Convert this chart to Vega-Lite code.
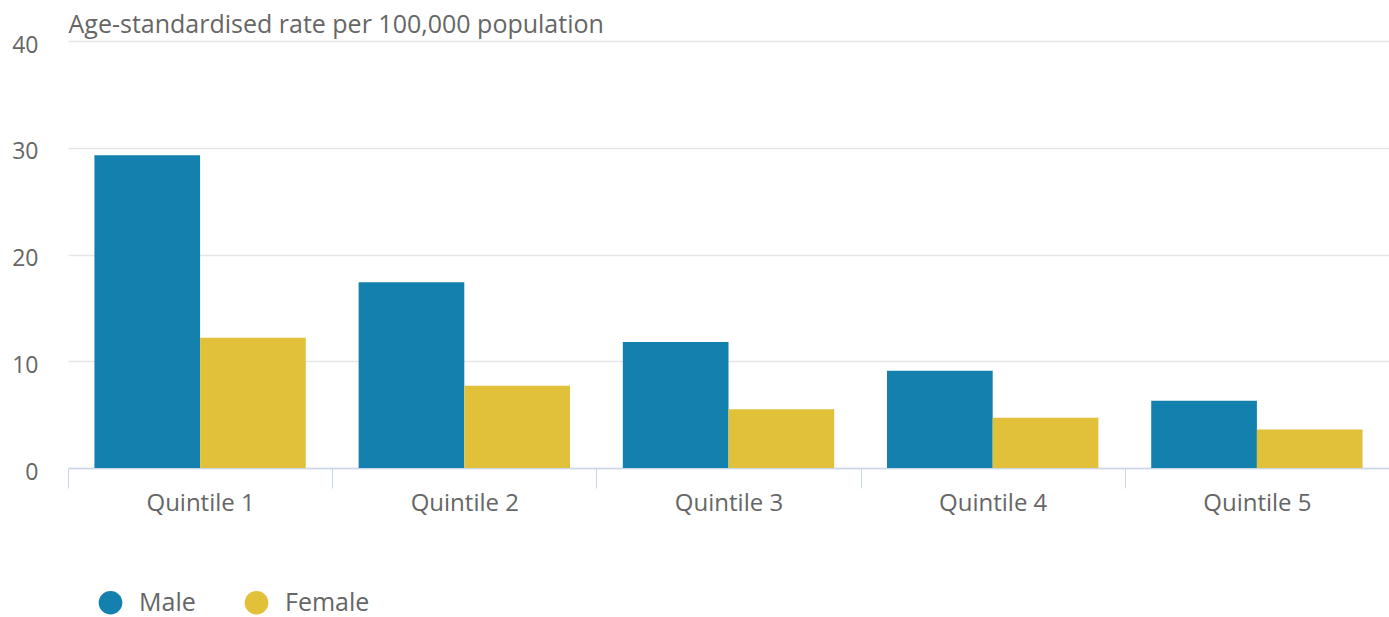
{
  "$schema": "https://vega.github.io/schema/vega-lite/v6.json",
  "width": 1321,
  "height": 427,
  "autosize": {"type": "none"},
  "padding": {"left": 68, "top": 41, "right": 0, "bottom": 149},
  "background": "white",
  "config": {
    "font": "Open Sans",
    "view": {"stroke": null}
  },
  "data": {
    "values": [
      {"quintile": "Quintile 1", "sex": "Male", "rate": 29.3},
      {"quintile": "Quintile 1", "sex": "Female", "rate": 12.2},
      {"quintile": "Quintile 2", "sex": "Male", "rate": 17.4},
      {"quintile": "Quintile 2", "sex": "Female", "rate": 7.7},
      {"quintile": "Quintile 3", "sex": "Male", "rate": 11.8},
      {"quintile": "Quintile 3", "sex": "Female", "rate": 5.5},
      {"quintile": "Quintile 4", "sex": "Male", "rate": 9.1},
      {"quintile": "Quintile 4", "sex": "Female", "rate": 4.7},
      {"quintile": "Quintile 5", "sex": "Male", "rate": 6.3},
      {"quintile": "Quintile 5", "sex": "Female", "rate": 3.6}
    ]
  },
  "mark": {"type": "bar"},
  "encoding": {
    "x": {
      "field": "quintile",
      "type": "nominal",
      "scale": {"paddingInner": 0, "paddingOuter": 0},
      "axis": {
        "title": null,
        "labelAngle": 0,
        "labelFontSize": 24,
        "labelColor": "#666666",
        "labelPadding": 3,
        "labelBaseline": "top",
        "tickBand": "extent",
        "tickSize": 20,
        "tickColor": "#ccd6eb",
        "domainColor": "#ccd6eb",
        "domainWidth": 1.5,
        "grid": false
      }
    },
    "xOffset": {
      "field": "sex",
      "type": "nominal",
      "sort": ["Male", "Female"],
      "scale": {"paddingInner": 0, "paddingOuter": 0.25}
    },
    "y": {
      "field": "rate",
      "type": "quantitative",
      "scale": {"domain": [0, 40]},
      "axis": {
        "values": [0, 10, 20, 30, 40],
        "title": "Age-standardised rate per 100,000 population",
        "titleAngle": 0,
        "titleX": 0,
        "titleY": -4,
        "titleAlign": "left",
        "titleBaseline": "bottom",
        "titleFontSize": 25,
        "titleFontWeight": "normal",
        "titleColor": "#666666",
        "labelFontSize": 23,
        "labelColor": "#666666",
        "labelPadding": 30,
        "labelOffset": 4,
        "domain": false,
        "ticks": false,
        "grid": true,
        "gridColor": "#e6e6e6",
        "gridWidth": 1.5
      }
    },
    "color": {
      "field": "sex",
      "type": "nominal",
      "sort": ["Male", "Female"],
      "scale": {"domain": ["Male", "Female"], "range": ["#1380ad", "#e1c03a"]},
      "legend": {
        "title": null,
        "orient": "none",
        "direction": "horizontal",
        "legendX": 30,
        "legendY": 549,
        "symbolType": "circle",
        "symbolSize": 560,
        "symbolStrokeWidth": 0,
        "symbolOpacity": 1,
        "labelFontSize": 25,
        "labelColor": "#666666",
        "labelOffset": 16,
        "columnPadding": 48
      }
    }
  }
}
